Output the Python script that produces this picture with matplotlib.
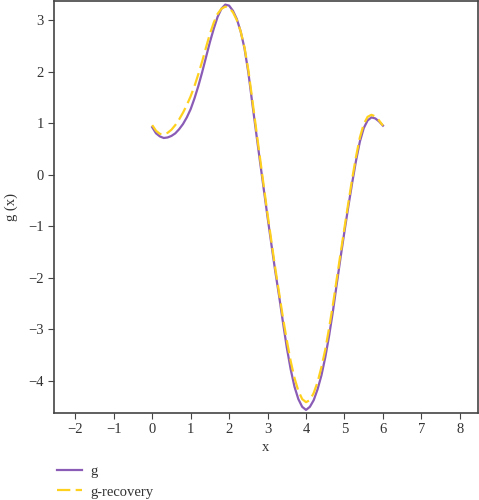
#!/usr/bin/env python3
"""
g(x) and its recovery
"""
import matplotlib
matplotlib.use('Agg')
import matplotlib.pyplot as plt
import numpy as np

# values, x step 0.1 from 0 to 6
x_vals = np.round(np.arange(0, 61) * 0.1, 1)
g_vals = [0.92, 0.80, 0.74, 0.71, 0.72, 0.75, 0.80, 0.88, 0.98, 1.11,
          1.27, 1.48, 1.72, 1.99, 2.28, 2.57, 2.83, 3.06, 3.22, 3.30,
          3.28, 3.18, 3.02, 2.78, 2.45, 1.98, 1.40, 0.83, 0.27, -0.28,
          -0.83, -1.36, -1.88, -2.36, -2.87, -3.36, -3.78, -4.12, -4.36, -4.51,
          -4.57, -4.51, -4.38, -4.17, -3.90, -3.55, -3.13, -2.65, -2.12, -1.60,
          -1.10, -0.62, -0.16, 0.27, 0.64, 0.90, 1.05, 1.11, 1.09, 1.03,
          0.95]
g_rec_vals = [0.96, 0.85, 0.79, 0.78, 0.81, 0.87, 0.96, 1.07, 1.20, 1.35,
              1.52, 1.72, 1.95, 2.20, 2.47, 2.73, 2.95, 3.12, 3.22, 3.26,
              3.24, 3.15, 3.00, 2.78, 2.47, 2.03, 1.47, 0.90, 0.34, -0.22,
              -0.77, -1.30, -1.82, -2.30, -2.78, -3.22, -3.62, -3.95, -4.20, -4.36,
              -4.42, -4.38, -4.24, -4.03, -3.74, -3.40, -2.98, -2.52, -2.02, -1.52,
              -1.03, -0.55, -0.08, 0.35, 0.72, 0.98, 1.12, 1.16, 1.13, 1.05,
              0.95]

x_ticks = [-2, -1, 0, 1, 2, 3, 4, 5, 6, 7, 8]
y_ticks = [-4, -3, -2, -1, 0, 1, 2, 3]


def format_plotting():
    plt.rcParams['font.family'] = ['Liberation Serif', 'DejaVu Serif']
    plt.rcParams['font.size'] = 10.5
    plt.rcParams['xtick.labelsize'] = 10.5
    plt.rcParams['ytick.labelsize'] = 10.5
    plt.rcParams['xtick.major.size'] = 4
    plt.rcParams['ytick.major.size'] = 4
    plt.rcParams['xtick.color'] = '#444444'
    plt.rcParams['ytick.color'] = '#444444'
    plt.rcParams['xtick.labelcolor'] = '#333333'
    plt.rcParams['ytick.labelcolor'] = '#333333'
    plt.rcParams['axes.edgecolor'] = '#444444'
    plt.rcParams['axes.linewidth'] = 1.2


def tick_text(t):
    return '\u2212%d' % -t if t < 0 else str(t)


def main():
    format_plotting()
    fig = plt.figure(figsize=(4.79, 5.0), dpi=100)
    ax = fig.add_axes([0.113, 0.174, 0.884, 0.824])

    ax.plot(x_vals, g_vals, color='#8a5cb6', lw=1.6, label='g')
    ax.plot(x_vals, g_rec_vals, color='#ffd11f', lw=1.6, dashes=(6, 2.4),
            label='g-recovery')

    ax.set_xlim(-2.55, 8.46)
    ax.set_ylim(-4.63, 3.37)
    ax.set_xticks(x_ticks)
    ax.set_yticks(y_ticks)
    ax.set_xticklabels([tick_text(t) for t in x_ticks])
    ax.set_yticklabels([tick_text(t) for t in y_ticks])
    ax.set_xlabel('x', color='#333333', labelpad=3)
    ax.set_ylabel('g (x)', color='#333333', labelpad=7)

    fig.legend(loc='upper left', bbox_to_anchor=(0.107, 0.082),
               frameon=False, handlelength=1.7, handletextpad=0.55,
               labelspacing=0.5, borderaxespad=0, fontsize=10.5,
               labelcolor='#333333')

    fig.savefig('out.png', dpi=100)


if __name__ == "__main__":
    main()
